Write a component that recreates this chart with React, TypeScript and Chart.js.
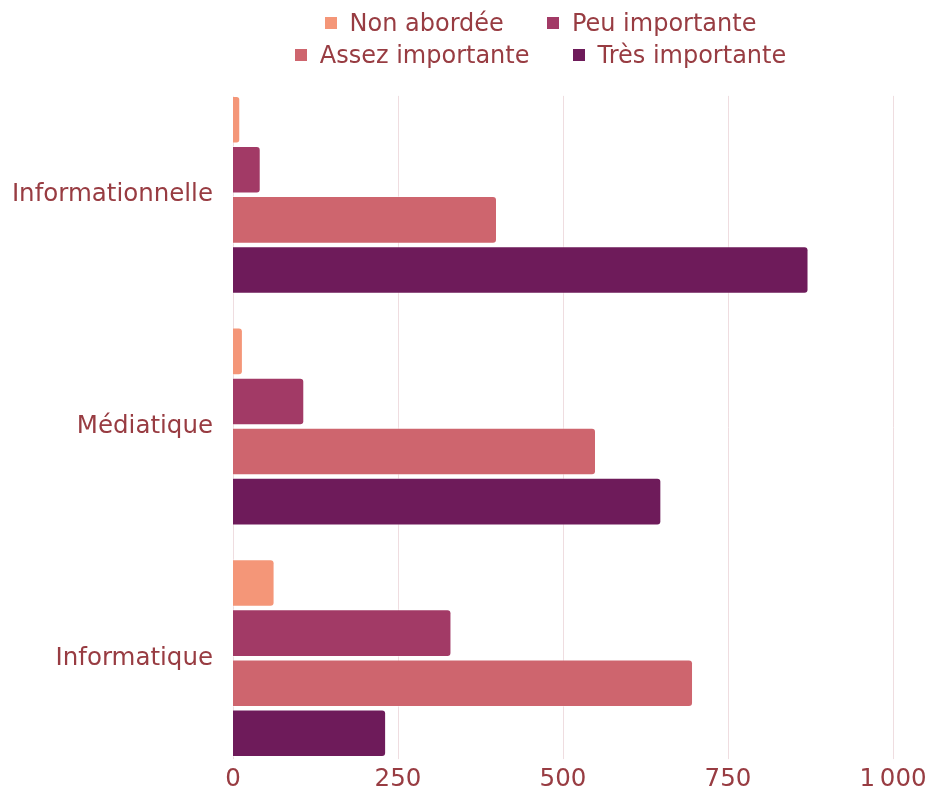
import React, { useEffect, useRef } from "react";
import { Chart, registerables } from "chart.js";

Chart.register(...registerables);

const categories = ["Informationnelle", "Médiatique", "Informatique"];
const seriesNames = ["Non abordée", "Peu importante", "Assez importante", "Très importante"];
const nonAbordee = [11, 15, 63];
const peuImportante = [42, 108, 331];
const assezImportante = [400, 550, 697];
const tresImportante = [872, 649, 232];
const seriesColors = ["#f49678", "#a23a66", "#ce656e", "#6e1b5a"];
const xTicks = [0, 250, 500, 750, 1000];
const xTickLabels = ["0", "250", "500", "750", "1\u202F000"];

const TEXT = "#983c42";
const FONT = "'DejaVu Sans', sans-serif";

const gridPlugin = {
  id: "partialGrid",
  beforeDatasetsDraw(chart: any) {
    const first = chart.getDatasetMeta(0).data[0];
    const lastMeta = chart.getDatasetMeta(chart.data.datasets.length - 1);
    const last = lastMeta.data[lastMeta.data.length - 1];
    if (!first || !last) return;
    const top = first.y - first.height / 2;
    const bottom = last.y + last.height / 2;
    const ctx = chart.ctx;
    const xs = chart.scales.x;
    ctx.save();
    ctx.strokeStyle = "#efdde0";
    ctx.lineWidth = 1;
    xTicks.forEach((v) => {
      const px = Math.round(xs.getPixelForValue(v)) + 0.5;
      ctx.beginPath();
      ctx.moveTo(px, top);
      ctx.lineTo(px, bottom + 2);
      ctx.stroke();
    });
    ctx.restore();
  },
};

export default function App() {
  const ref = useRef<HTMLCanvasElement | null>(null);

  useEffect(() => {
    if (!ref.current) return;
    const data = [nonAbordee, peuImportante, assezImportante, tresImportante];
    const chart = new Chart(ref.current, {
      type: "bar",
      data: {
        labels: categories,
        datasets: seriesNames.map((name, i) => ({
          label: name,
          data: data[i],
          backgroundColor: seriesColors[i],
          borderColor: "rgba(255,255,255,0.45)",
          borderWidth: 1,
          borderRadius: 4,
          borderSkipped: "start",
          barPercentage: 0.95,
          categoryPercentage: 0.865,
        })),
      },
      options: {
        indexAxis: "y",
        animation: false,
        responsive: true,
        maintainAspectRatio: false,
        layout: { padding: { top: 79, right: 34, bottom: 0, left: 0 } },
        plugins: {
          legend: { display: false },
          tooltip: { enabled: false },
        },
        scales: {
          x: {
            type: "linear",
            min: 0,
            max: 1000,
            afterBuildTicks: (scale: any) => {
              scale.ticks = xTicks.map((v) => ({ value: v }));
            },
            afterFit: (scale: any) => {
              scale.height = 17;
              // let the tick labels rise above the axis box without being clipped
              scale._computeLabelArea = () => undefined;
            },
            grid: { display: false, drawTicks: false },
            border: { display: false },
            ticks: {
              color: TEXT,
              font: { family: FONT, size: 24.5 },
              padding: -9,
              maxRotation: 0,
              autoSkip: false,
              callback: (v: any) => xTickLabels[xTicks.indexOf(Number(v))] ?? String(v),
            },
          },
          y: {
            type: "category",
            afterFit: (scale: any) => {
              scale.width = 233;
            },
            grid: { display: false, drawTicks: true, tickLength: 20 },
            border: { display: false },
            ticks: {
              color: TEXT,
              font: { family: FONT, size: 24.5 },
              padding: 0,
            },
          },
        },
      },
      plugins: [gridPlugin],
    });
    return () => chart.destroy();
  }, []);

  const rows = [
    [0, 1],
    [2, 3],
  ];

  return (
    <div
      style={{
        position: "fixed",
        left: 0,
        top: 0,
        width: 927,
        height: 791,
        fontFamily: FONT,
        background: "#ffffff",
      }}
    >
      <canvas ref={ref} />
      <div
        style={{
          position: "absolute",
          top: 7,
          left: 0,
          width: 927,
          paddingLeft: 154,
          boxSizing: "border-box",
        }}
      >
        {rows.map((row, r) => (
          <div
            key={r}
            style={{ display: "flex", justifyContent: "center", alignItems: "center", height: 32 }}
          >
            {row.map((i, k) => (
              <div
                key={i}
                style={{ display: "flex", alignItems: "center", marginLeft: k === 0 ? 0 : 43 }}
              >
                <span
                  style={{
                    display: "inline-block",
                    width: 12,
                    height: 12,
                    background: seriesColors[i],
                    marginRight: 13,
                  }}
                />
                <span style={{ color: TEXT, fontSize: 24, lineHeight: "32px", whiteSpace: "nowrap" }}>
                  {seriesNames[i]}
                </span>
              </div>
            ))}
          </div>
        ))}
      </div>
    </div>
  );
}
